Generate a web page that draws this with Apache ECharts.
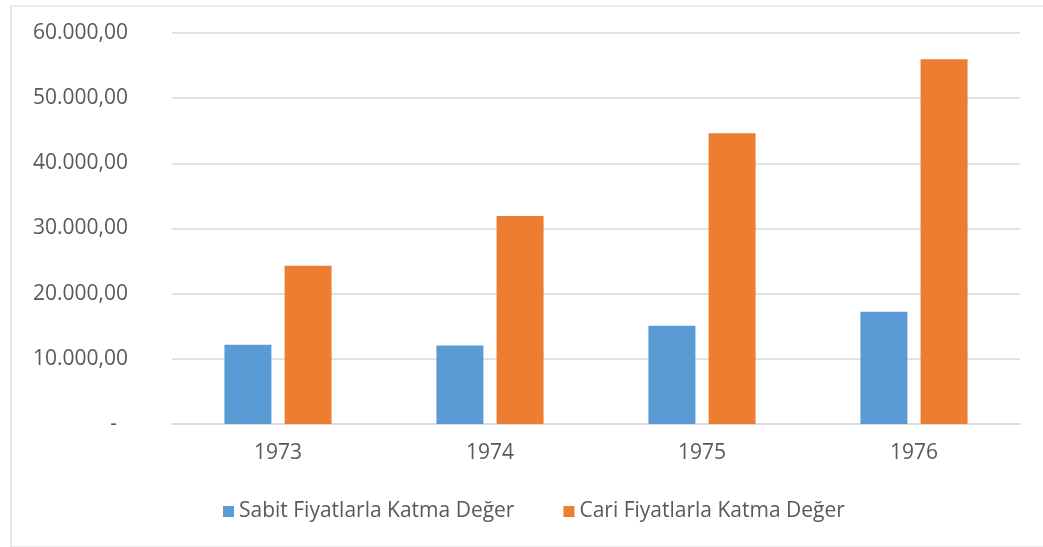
<!DOCTYPE html>
<html><head><meta charset="utf-8">
<script src="https://cdn.jsdelivr.net/npm/echarts@6/dist/echarts.min.js"></script>
<style>html,body{margin:0;padding:0;background:#fff}#c{width:1043px;height:547px}</style>
</head><body><div id="c"></div>
<script>
const categories = ['1973', '1974', '1975', '1976'];
const sabitValues = [12160, 12060, 15080, 17220];
const cariValues = [24280, 31900, 44630, 55980];
const seriesNames = ['Sabit Fiyatlarla Katma Değer', 'Cari Fiyatlarla Katma Değer'];

function fmt(v) {
  if (v === 0) return '{z|-}';
  const s = Math.round(v).toString().replace(/\B(?=(\d{3})+(?!\d))/g, '.');
  return s + ',00';
}
const FONT = 'Open Sans';
const FS = 21;
const chart = echarts.init(document.getElementById('c'), null, {renderer: 'canvas'});
chart.setOption({
  animation: false,
  backgroundColor: '#fff',
  graphic: [{
    type: 'rect', left: 8.5, top: 3.5,
    shape: {width: 1050, height: 541},
    style: {fill: 'none', stroke: '#d9d9d9', lineWidth: 1.2}
  }],
  grid: {left: 172, right: 23, top: 33, bottom: 123, containLabel: false},
  legend: {
    left: 218, top: 496, itemWidth: 11, itemHeight: 11, itemGap: 49,
    icon: 'rect',
    textStyle: {fontFamily: FONT, fontSize: FS, color: '#595959'},
    data: seriesNames
  },
  xAxis: {
    type: 'category', data: categories,
    axisLine: {lineStyle: {color: '#d9d9d9', width: 1.5}},
    axisTick: {show: false},
    axisLabel: {fontFamily: FONT, fontSize: FS, color: '#595959', margin: 19}
  },
  yAxis: {
    type: 'value', min: 0, max: 60000, interval: 10000,
    axisLine: {show: false}, axisTick: {show: false},
    splitLine: {lineStyle: {color: '#d9d9d9', width: 1.5}},
    axisLabel: {
      fontFamily: FONT, fontSize: FS, color: '#595959', margin: 44,
      formatter: fmt,
      rich: {z: {fontFamily: FONT, fontSize: FS, color: '#595959', padding: [0, 11, 0, 0]}}
    }
  },
  series: [
    {name: seriesNames[0], type: 'bar', data: sabitValues, barWidth: 47, barGap: '28%',
     itemStyle: {color: '#5b9bd5'}},
    {name: seriesNames[1], type: 'bar', data: cariValues, barWidth: 47, barGap: '28%',
     itemStyle: {color: '#ed7d31'}}
  ]
});
</script></body></html>
